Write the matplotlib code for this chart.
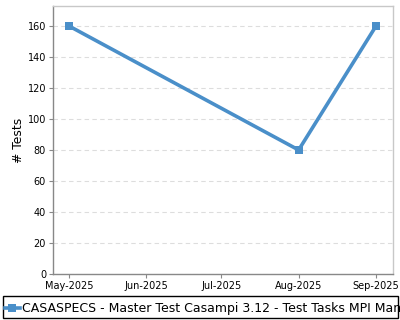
import matplotlib
matplotlib.use("Agg")
import matplotlib.pyplot as plt
import matplotlib.dates as mdates
from matplotlib.patches import Rectangle
from datetime import datetime, timedelta

# data
dates = [datetime(2025, 5, 1), datetime(2025, 8, 1), datetime(2025, 9, 1)]
tests = [160, 80, 160]
tick_dates = [datetime(2025, m, 1) for m in range(5, 10)]
yticks = [0, 20, 40, 60, 80, 100, 120, 140, 160]
series_name = "CASASPECS - Master Test Casampi 3.12 - Test Tasks MPI Mandatory"

line_color = "#4a8fc9"

fig = plt.figure(figsize=(4, 3.2), dpi=100)
ax = fig.add_axes([53 / 400, 1 - 274 / 320, 340 / 400, 268 / 320])

ax.plot(dates, tests, color=line_color, lw=2.6, marker="s", ms=5.2,
        markeredgewidth=0, solid_joinstyle="miter")

ax.set_xlim(datetime(2025, 5, 1) - timedelta(days=6.4),
            datetime(2025, 9, 1) + timedelta(days=6.8))
ax.set_ylim(0, 172.9)
ax.set_xticks(tick_dates)
ax.xaxis.set_major_formatter(mdates.DateFormatter("%b-%Y"))
ax.set_yticks(yticks)

ax.tick_params(labelsize=7, length=3, width=0.8, color="#888888", pad=2)
ax.yaxis.grid(True, linestyle=(0, (4, 3)), color="#dddddd", lw=0.8)
ax.set_axisbelow(True)
ax.spines["left"].set_color("#888888")
ax.spines["bottom"].set_color("#888888")
ax.spines["top"].set_color("#c8c8c8")
ax.spines["right"].set_color("#c8c8c8")
for s in ax.spines.values():
    s.set_linewidth(1)

ax.set_ylabel("# Tests", fontsize=8.9, labelpad=1.5)

# legend box, text runs past the right edge as in the original
leg = fig.legend([ax.lines[0]], [series_name], loc="lower left",
                 bbox_to_anchor=(1 / 400, 1 / 320), frameon=False,
                 fontsize=9, handlelength=1.2, handletextpad=0.2,
                 borderaxespad=0, borderpad=0.3)
fig.add_artist(Rectangle((3 / 400, 2 / 320), 395 / 400, 22 / 320,
                         transform=fig.transFigure, fill=False,
                         edgecolor="black", lw=1))

fig.savefig("out.png", dpi=100)
